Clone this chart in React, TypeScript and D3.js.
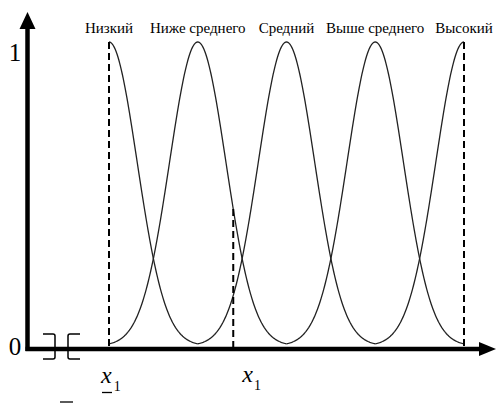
import React from 'react';
import * as d3 from 'd3';

// term names (top labels) and their peak positions on the x axis
const terms = ['Низкий', 'Ниже среднего', 'Средний', 'Выше среднего', 'Высокий'];
const peaks = [1, 2, 3, 4, 5];
// spread of each bell (same units as peaks)
const spread = 0.448;
// the chosen point x1 and the y tick labels
const xPoint = 2.4;
const yTicks = [0, 1];

const W = 500;
const H = 405;
const FONT = 'Liberation Serif, Tinos, Times New Roman, serif';

const mu = (u: number, c: number) =>
  Math.abs(u - c) > 1 ? 0 : Math.exp(-Math.pow((u - c) / spread, 2));

const x = d3.scaleLinear().domain([1, 5]).range([109, 464]);
const y = d3.scaleLinear().domain([0, 1]).range([346, 42]);

const axisX = 27.5;
const axisY = 349;

const App = () => {
  // membership curves, the edge terms are only drawn on their inner side
  const curves = peaks.map((c, i) => {
    const lo = i === 0 ? c : c - 1;
    const hi = i === peaks.length - 1 ? c : c + 1;
    const pts = d3.range(lo, hi + 0.0001, 0.01);
    return d3.line<number>().x(u => x(u)).y(u => y(mu(u, c)))(pts) as string;
  });

  // dashed verticals at the edges and at x1
  const dashed = [
    { u: peaks[0], v: 1 },
    { u: peaks[peaks.length - 1], v: 1 },
    { u: xPoint, v: mu(xPoint, peaks[1]) },
  ];

  return (
    <svg
      width={W}
      height={H}
      fontFamily={FONT}
      style={{ position: 'absolute', left: 0, top: 0, background: '#fff', fontFamily: FONT }}
    >
      {curves.map((d, i) => (
        <path key={i} d={d} fill="none" stroke="#222" strokeWidth={1.3} />
      ))}

      {dashed.map((d, i) => (
        <line
          key={i}
          x1={x(d.u)}
          x2={x(d.u)}
          y1={y(d.v)}
          y2={axisY}
          stroke="#000"
          strokeWidth={2}
          strokeDasharray="7,4"
        />
      ))}

      {terms.map((t, i) => (
        <text
          key={t}
          x={x(peaks[i])}
          y={33}
          textAnchor="middle"
          fontSize={15}
          style={{ fontFamily: FONT }}
        >
          {t}
        </text>
      ))}

      {/* axes */}
      <line x1={axisX} x2={axisX} y1={26} y2={axisY + 2} stroke="#000" strokeWidth={4.5} />
      <path d={`M${axisX},12 L${axisX - 8},29 L${axisX + 8},29 Z`} fill="#000" />
      <line x1={axisX - 2} x2={482} y1={axisY} y2={axisY} stroke="#000" strokeWidth={4.5} />
      <path d={`M496,${axisY} L479,${axisY - 7} L479,${axisY + 7} Z`} fill="#000" />

      {/* axis break brackets ] [ */}
      <path
        d="M43,334 L53,334 Q55,334 55,336 L55,357 Q55,359 53,359 L43,359"
        fill="none"
        stroke="#000"
        strokeWidth={1.5}
      />
      <path
        d="M80,334 L70,334 Q68,334 68,336 L68,357 Q68,359 70,359 L80,359"
        fill="none"
        stroke="#000"
        strokeWidth={1.5}
      />

      {yTicks.map(t => (
        <text
          key={t}
          x={15}
          y={t === 1 ? 61 : 355}
          textAnchor="middle"
          fontSize={25}
          style={{ fontFamily: FONT }}
        >
          {String(t)}
        </text>
      ))}

      {/* underlined x1 under the first peak */}
      <text x={101} y={383} fontSize={24} style={{ fontFamily: FONT }}>
        <tspan fontStyle="italic">x</tspan>
        <tspan fontSize={14} dx={2} dy={8}>1</tspan>
      </text>
      <line x1={102} x2={112} y1={392.5} y2={392.5} stroke="#000" strokeWidth={1.3} />

      {/* x1 under the dashed line */}
      <text x={x(xPoint) + 9} y={382} fontSize={24} style={{ fontFamily: FONT }}>
        <tspan fontStyle="italic">x</tspan>
        <tspan fontSize={14} dx={1} dy={8}>1</tspan>
      </text>

      {/* stray bar below */}
      <line x1={60} x2={73} y1={402} y2={402} stroke="#000" strokeWidth={1.3} />
    </svg>
  );
};

export default App;
